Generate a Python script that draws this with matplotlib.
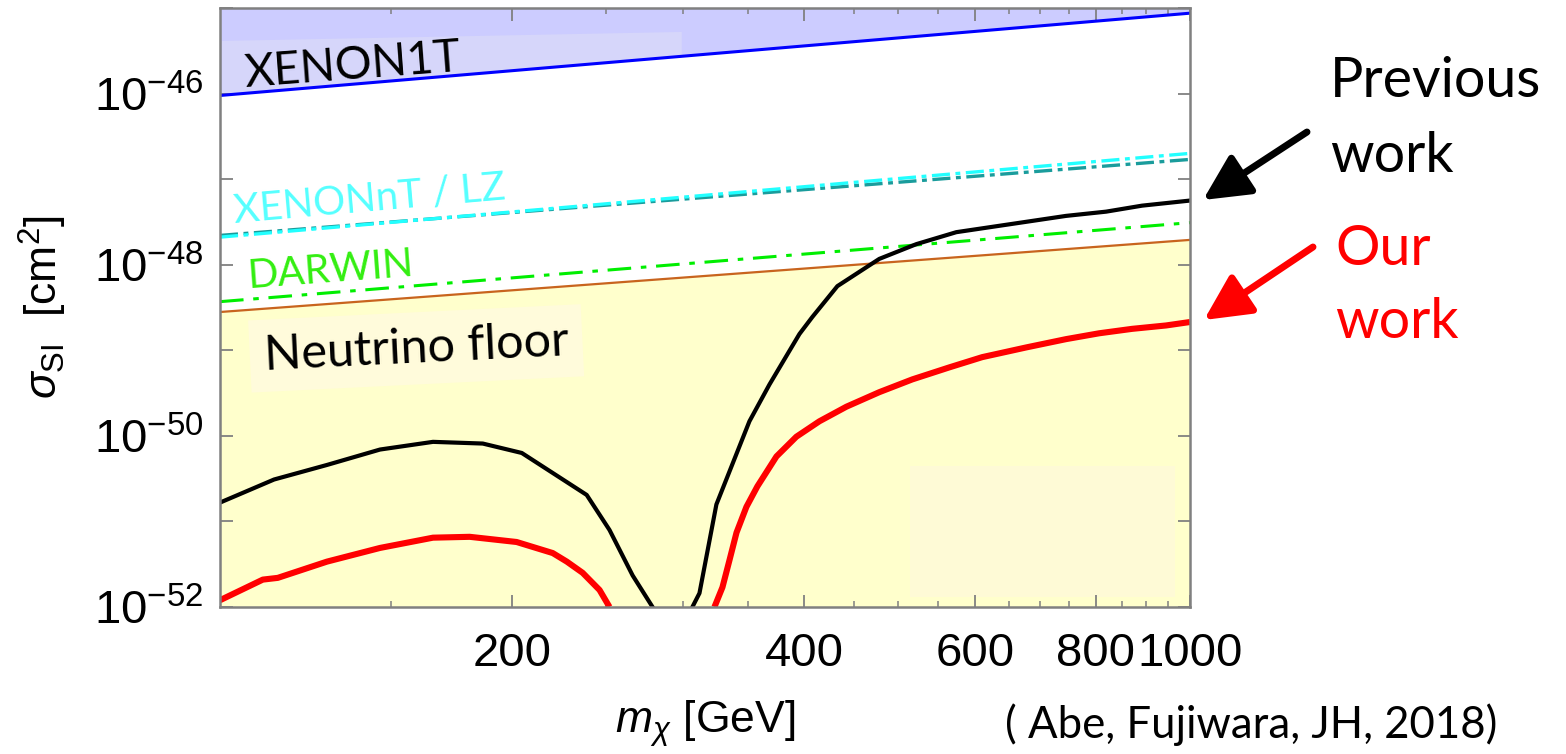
import numpy as np
import matplotlib
matplotlib.use("Agg")
import matplotlib.pyplot as plt
from matplotlib.ticker import FixedLocator, FuncFormatter, NullFormatter
from matplotlib.patches import FancyArrowPatch, Rectangle, Polygon

# --- datos (m en GeV, sigma en cm^2) ---
mass_ref = [100, 1000]
xenon1t = [9.5e-47, 8.7e-46]
xenonnt = [2.1e-48, 2.0e-47]
lz = [2.2e-48, 1.7e-47]
darwin = [3.7e-49, 3.1e-48]
nu_floor = [2.8e-49, 1.95e-48]

# trabajo previo (negro), dos ramas separadas por el punto ciego
prev_mass_a = [100, 113.7, 128.9, 146.2, 165.8, 186.6, 204.7, 238.8, 252.1, 266.3, 279.2]
prev_sig_a = [1.66e-51, 3.09e-51, 4.57e-51, 6.92e-51, 8.51e-51, 8.13e-51, 6.31e-51,
              2.04e-51, 7.94e-52, 2.34e-52, 1.0e-52]
prev_mass_b = [306.9, 312.1, 324.9, 351.4, 368.5, 395.7, 408.0, 433.0, 478.3, 522.3,
               574.2, 745.1, 819.4, 892.4, 1000]
prev_sig_b = [1.0e-52, 1.45e-52, 1.58e-51, 1.48e-50, 3.98e-50, 1.55e-49, 2.45e-49,
              5.62e-49, 1.17e-48, 1.74e-48, 2.40e-48, 3.72e-48, 4.17e-48, 4.90e-48, 5.62e-48]

# nuestro trabajo (rojo)
our_mass_a = [100, 110.7, 114.7, 128.9, 146.2, 165.8, 180.9, 202.2, 220.3, 227.8, 236.5, 246.2, 252.1]
our_sig_a = [1.20e-52, 2.09e-52, 2.19e-52, 3.39e-52, 4.90e-52, 6.46e-52, 6.61e-52,
             5.75e-52, 4.27e-52, 3.39e-52, 2.51e-52, 1.58e-52, 1.0e-52]
our_mass_b = [323.4, 329.6, 335.2, 340.8, 348.9, 358.1, 374.7, 392.8, 414.9, 442.3, 478.3,
              517.3, 564.7, 610.7, 677.9, 745.1, 806.0, 871.5, 944.7, 1000]
our_sig_b = [1.0e-52, 1.70e-52, 3.55e-52, 7.41e-52, 1.48e-51, 2.57e-51, 5.75e-51, 9.77e-51,
             1.48e-50, 2.19e-50, 3.24e-50, 4.57e-50, 6.31e-50, 8.32e-50, 1.08e-49, 1.35e-49,
             1.58e-49, 1.78e-49, 1.95e-49, 2.14e-49]

x_major = [200, 400, 600, 800, 1000]
x_minor = [150, 250, 300, 350, 450, 500, 550, 650, 700, 750, 850, 900, 950]
y_decades = [-52, -51, -50, -49, -48, -47, -46, -45]

plt.rcParams['font.family'] = ['Liberation Sans', 'DejaVu Sans']
plt.rcParams['mathtext.fontset'] = 'custom'
plt.rcParams['mathtext.rm'] = 'Liberation Sans'
plt.rcParams['mathtext.it'] = 'Liberation Sans:italic'
plt.rcParams['lines.scale_dashes'] = False

fig = plt.figure(figsize=(15.66, 7.54), dpi=100)
ax = fig.add_axes([220 / 1566, 147 / 754, 970 / 1566, 599 / 754])
ax.set_xscale('log')
ax.set_yscale('log')
ax.set_xlim(100, 1000)
ax.set_ylim(1e-52, 1e-45)

# regiones sombreadas
xe_fill = ax.fill_between(mass_ref, xenon1t, [1e-45, 1e-45], color='#ccccff', lw=0, zorder=1)
ax.fill_between(mass_ref, [1e-52, 1e-52], nu_floor, color='#ffffcc', lw=0, zorder=1)
ax.add_patch(Rectangle((0.711, 0.017), 0.274, 0.218, transform=ax.transAxes,
                       facecolor='#fefad6', edgecolor='none', zorder=1.5))

# caja clara detras de la etiqueta XENON1T, recortada a la region excluida
caja = Polygon([(0.002, 0.945), (0.476, 0.96), (0.476, 0.80), (0.002, 0.80)],
               closed=True, transform=ax.transAxes, facecolor='#d6d6fa',
               edgecolor='none', zorder=1.5)
caja.set_clip_path(xe_fill.get_paths()[0], xe_fill.get_transform())
ax.add_patch(caja)

# lineas de sensibilidad
ax.plot(mass_ref, xenon1t, color='#0000ff', lw=2.2, zorder=4)
ax.plot(mass_ref, lz, color='#1a9c9c', lw=2.4, dashes=[13, 4, 3.5, 4], zorder=4)
ax.plot(mass_ref, xenonnt, color='#22ffff', lw=2.4, dashes=[13, 4, 3.5, 4], zorder=4)
ax.plot(mass_ref, darwin, color='#00ee00', lw=2.2, dashes=[17, 7, 4, 7], zorder=4)
ax.plot(mass_ref, nu_floor, color='#c8641e', lw=1.6, zorder=4)

# curvas principales
ax.plot(prev_mass_a, prev_sig_a, color='black', lw=3.0, zorder=5)
ax.plot(prev_mass_b, prev_sig_b, color='black', lw=3.0, zorder=5)
ax.plot(our_mass_a, our_sig_a, color='#ff0000', lw=4.4, zorder=6, solid_capstyle='butt')
ax.plot(our_mass_b, our_sig_b, color='#ff0000', lw=4.4, zorder=6, solid_capstyle='butt')


def y_label(v, pos):
    e = int(round(np.log10(v)))
    return r'$10^{%d}$' % e if e % 2 == 0 else ''


# ejes
ax.xaxis.set_major_locator(FixedLocator(x_major))
ax.xaxis.set_minor_locator(FixedLocator(x_minor))
ax.xaxis.set_major_formatter(FuncFormatter(lambda v, p: '%d' % v))
ax.xaxis.set_minor_formatter(NullFormatter())
ax.yaxis.set_major_locator(FixedLocator([10.0 ** e for e in y_decades]))
ax.yaxis.set_minor_locator(FixedLocator([]))
ax.yaxis.set_major_formatter(FuncFormatter(y_label))

ax.tick_params(which='both', direction='in', top=True, right=True, color='#808080')
ax.tick_params(which='major', length=9, width=1.3, labelsize=34)
ax.tick_params(which='minor', length=4.5, width=1.1)
ax.tick_params(axis='x', pad=18)
ax.tick_params(axis='y', pad=12)
for s in ax.spines.values():
    s.set_color('#808080')
    s.set_linewidth(1.8)
    s.set_zorder(7)

ax.set_xlabel(r'$m_\chi$ [GeV]', fontsize=32, labelpad=16)
ax.set_ylabel(r'$\sigma_{\mathrm{SI}}$  [cm$^2$]', fontsize=32, labelpad=18)

# etiquetas dentro del grafico
lato = ['Lato', 'DejaVu Sans']
ax.text(0.026, 0.868, 'XENON1T', transform=ax.transAxes, fontsize=33, family=lato,
        rotation=4.3, rotation_mode='anchor', va='baseline', ha='left', zorder=3)
ax.text(0.0155, 0.641, 'XENONnT / LZ', transform=ax.transAxes, fontsize=29, family=lato,
        color='#55ffff', rotation=5, rotation_mode='anchor', va='baseline', ha='left', zorder=3)
ax.text(0.029, 0.533, 'DARWIN', transform=ax.transAxes, fontsize=29, family=lato,
        color='#33ee11', rotation=4.3, rotation_mode='anchor', va='baseline', ha='left', zorder=3)
ax.text(0.046, 0.396, 'Neutrino floor', transform=ax.transAxes, fontsize=35, family=lato,
        rotation=2.8, rotation_mode='anchor', va='baseline', ha='left', zorder=3,
        bbox=dict(facecolor='#fffbdb', edgecolor='none', pad=10))

# anotaciones fuera del grafico
fig.text(1330 / 1566, 1 - 97 / 754, 'Previous', fontsize=40, family=lato, va='baseline')
fig.text(1330 / 1566, 1 - 172 / 754, 'work', fontsize=40, family=lato, va='baseline')
fig.text(1335 / 1566, 1 - 265 / 754, 'Our', fontsize=40, family=lato, va='baseline',
         color='#ff0000')
fig.text(1335 / 1566, 1 - 338 / 754, 'work', fontsize=40, family=lato, va='baseline',
         color='#ff0000')
fig.text(1005 / 1566, 1 - 738 / 754, '( Abe, Fujiwara, JH, 2018)', fontsize=31.5,
         family=lato, va='baseline')

for tail, tip, col in [((1307, 132), (1203, 200), 'black'),
                       ((1313, 247), (1204, 320), '#ff0000')]:
    fig.add_artist(FancyArrowPatch(
        (tail[0] / 1566, 1 - tail[1] / 754), (tip[0] / 1566, 1 - tip[1] / 754),
        transform=fig.transFigure, arrowstyle='-|>,head_length=1.0,head_width=0.5',
        mutation_scale=28, lw=5, color=col, shrinkA=0, shrinkB=0))

fig.savefig('out.png', dpi=100)
